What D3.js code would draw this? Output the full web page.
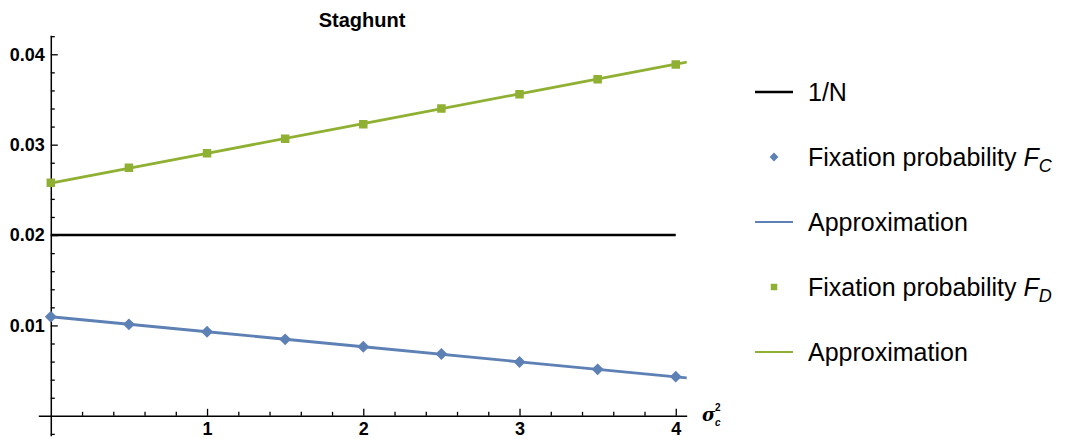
<!DOCTYPE html>
<html>
<head>
<meta charset="utf-8">
<script src="https://cdn.jsdelivr.net/npm/d3@7"></script>
<style>
  body { margin: 0; background: #fff; }
  svg { display: block; }
  text { font-family: "Liberation Sans", Arial, sans-serif; }
</style>
</head>
<body>
<svg id="chart" width="1065" height="439"></svg>
<script>
// sigma_c^2 values where the fixation probabilities were simulated
var sigmaVals = [0, 0.5, 1, 1.5, 2, 2.5, 3, 3.5, 4];
// simulated fixation probabilities
var fixC = [0.01096, 0.01012, 0.0093, 0.00846, 0.00764, 0.00684, 0.00595, 0.00514, 0.00433];
var fixD = [0.02579, 0.02745, 0.02904, 0.03066, 0.03225, 0.0340, 0.03558, 0.03725, 0.03888];
// approximation curves (run past the last point to the plot edge)
var approxX = [0, 1, 2, 3, 4, 4.1];
var approxC = [0.01096, 0.0093, 0.00764, 0.00597, 0.00431, 0.00415];
var approxD = [0.02575, 0.02905, 0.03232, 0.03562, 0.03890, 0.03923];
// neutral reference 1/N
var neutralX = [0, 4];
var neutralY = [0.02, 0.02];

var xTicks = [1, 2, 3, 4];
var yTicks = [0.01, 0.02, 0.03, 0.04];

var blue = "#5e81b5", green = "#8fb032";

var svg = d3.select("#chart");

var x = d3.scaleLinear().domain([-0.08, 4.07]).range([38.3, 686.7]);
var y = d3.scaleLinear().domain([-0.0022, 0.0421]).range([435.7, 35.3]);

// clip region = plot range
svg.append("defs").append("clipPath").attr("id", "plotClip")
  .append("rect")
  .attr("x", x(-0.08)).attr("y", y(0.0421))
  .attr("width", x(4.07) - x(-0.08)).attr("height", y(-0.0022) - y(0.0421));

// minor ticks, drawn inward
var xMinor = d3.range(0, 4.07, 0.2).filter(function(v){ return Math.abs(v - Math.round(v)) > 1e-6; });
var yMinor = d3.range(-0.002, 0.0421, 0.002).filter(function(v){ return Math.abs(v*100 - Math.round(v*100)) > 1e-6; });

var xAxisMinor = svg.append("g")
  .attr("transform", "translate(0," + y(0) + ")")
  .call(d3.axisBottom(x).tickValues(xMinor).tickSize(-4).tickFormat(""));
xAxisMinor.select(".domain").remove();

var yAxisMinor = svg.append("g")
  .attr("transform", "translate(" + x(0) + ",0)")
  .call(d3.axisLeft(y).tickValues(yMinor).tickSize(-4).tickFormat(""));
yAxisMinor.select(".domain").remove();

// major axes
var xAxis = svg.append("g")
  .attr("transform", "translate(0," + y(0) + ")")
  .call(d3.axisBottom(x).tickValues(xTicks).tickSizeInner(-7).tickSizeOuter(0).tickPadding(6).tickFormat(d3.format("d")));

var yAxis = svg.append("g")
  .attr("transform", "translate(" + x(0) + ",0)")
  .call(d3.axisLeft(y).tickValues(yTicks).tickSizeInner(-7).tickSizeOuter(0).tickPadding(6).tickFormat(d3.format(".2f")));

[xAxis, yAxis, xAxisMinor, yAxisMinor].forEach(function(a){
  a.attr("font-size", null).attr("font-family", null);
  a.selectAll("line").attr("stroke", "#000").attr("stroke-width", 1.3);
  a.select(".domain").attr("stroke", "#000").attr("stroke-width", 1.5);
  a.selectAll("text").attr("fill", "#000").style("font-size", "18px").style("font-weight", "bold");
});

// axis label sigma_c^2 (sup and sub as separate texts, stacked)
svg.append("text").attr("x", 702).attr("y", 421)
  .style("font-size", "18px").style("font-style", "italic").style("font-weight", "bold")
  .style("font-family", "'DejaVu Serif', serif").text("σ");
svg.append("text").attr("x", 715).attr("y", 411)
  .style("font-size", "10px").style("font-weight", "bold").text("2");
svg.append("text").attr("x", 715).attr("y", 426)
  .style("font-size", "10px").style("font-weight", "bold").style("font-style", "italic").text("c");

// title
svg.append("text").attr("x", 362).attr("y", 27).attr("text-anchor", "middle")
  .style("font-size", "20px").style("font-weight", "bold").text("Staghunt");

var plot = svg.append("g").attr("clip-path", "url(#plotClip)");

var line = d3.line().x(function(d){ return x(d[0]); }).y(function(d){ return y(d[1]); });

plot.append("path").datum(d3.zip(neutralX, neutralY)).attr("d", line)
  .attr("fill", "none").attr("stroke", "#000").attr("stroke-width", 2.6);

plot.append("path").datum(d3.zip(approxX, approxC)).attr("d", line)
  .attr("fill", "none").attr("stroke", blue).attr("stroke-width", 2.8);
plot.append("path").datum(d3.zip(approxX, approxD)).attr("d", line)
  .attr("fill", "none").attr("stroke", green).attr("stroke-width", 2.8);

var diamond = d3.symbol().type(d3.symbolDiamond2).size(90);
var square = d3.symbol().type(d3.symbolSquare).size(72);

plot.selectAll(".ptC").data(d3.zip(sigmaVals, fixC)).join("path")
  .attr("class", "ptC")
  .attr("transform", function(d){ return "translate(" + x(d[0]) + "," + y(d[1]) + ")"; })
  .attr("d", diamond).attr("fill", blue);

plot.selectAll(".ptD").data(d3.zip(sigmaVals, fixD)).join("path")
  .attr("class", "ptD")
  .attr("transform", function(d){ return "translate(" + x(d[0]) + "," + y(d[1]) + ")"; })
  .attr("d", square).attr("fill", green);

// legend
var legendItems = [
  {kind: "line", color: "#000", label: [["1/N", false]]},
  {kind: "diamond", color: blue, label: [["Fixation probability ", false], ["F", true], ["C", true, "sub"]]},
  {kind: "line", color: blue, label: [["Approximation", false]]},
  {kind: "square", color: green, label: [["Fixation probability ", false], ["F", true], ["D", true, "sub"]]},
  {kind: "line", color: green, label: [["Approximation", false]]}
];

var legend = svg.append("g");
legendItems.forEach(function(item, i){
  var ly = 92 + i * 65;
  var g = legend.append("g").attr("transform", "translate(0," + ly + ")");
  if (item.kind === "line") {
    g.append("line").attr("x1", 755).attr("x2", 793).attr("y1", 0).attr("y2", 0)
      .attr("stroke", item.color).attr("stroke-width", item.color === "#000" ? 2.6 : 2.2);
  } else if (item.kind === "diamond") {
    g.append("path").attr("transform", "translate(774,0)")
      .attr("d", d3.symbol().type(d3.symbolDiamond2).size(50)).attr("fill", item.color);
  } else {
    g.append("path").attr("transform", "translate(774,0)")
      .attr("d", d3.symbol().type(d3.symbolSquare).size(42)).attr("fill", item.color);
  }
  var t = g.append("text").attr("x", 808).attr("y", 9).style("font-size", "25px").attr("fill", "#000");
  item.label.forEach(function(part){
    var ts = t.append("tspan").text(part[0]);
    if (part[1]) ts.style("font-style", "italic");
    if (part[2] === "sub") ts.attr("dy", 6).style("font-size", "18px");
  });
});
</script>
</body>
</html>
